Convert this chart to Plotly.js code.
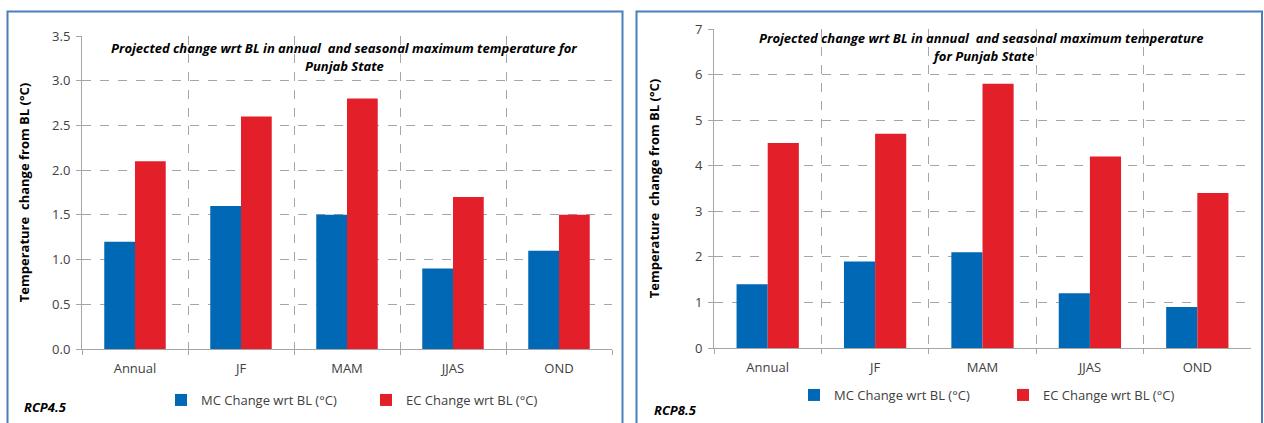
<!DOCTYPE html>
<html><head><meta charset="utf-8">
<script src="https://cdn.plot.ly/plotly-3.0.1.min.js"></script>
<style>html,body{margin:0;padding:0;background:#fff;}#chart{width:1264px;height:423px;}</style>
</head><body><div id="chart"></div>
<script>
const categories = ["Annual", "JF", "MAM", "JJAS", "OND"];
const rcp45_MC = [1.2, 1.6, 1.5, 0.9, 1.1];
const rcp45_EC = [2.1, 2.6, 2.8, 1.7, 1.5];
const rcp85_MC = [1.4, 1.9, 2.1, 1.2, 0.9];
const rcp85_EC = [4.5, 4.7, 5.8, 4.2, 3.4];
const seriesNames = ["MC Change wrt BL (°C)", "EC Change wrt BL (°C)"];
const titleLine1a = "Projected change wrt BL in annual  and seasonal maximum temperature for";
const titleLine2a = "Punjab State";
const titleLine1b = "Projected change wrt BL in annual  and seasonal maximum temperature";
const titleLine2b = "for Punjab State";
const yTitle = "Temperature  change from BL (°C)";

const W = 1264, H = 423;
const px = v => v / W, py = v => 1 - v / H;
const BLUE = "#0068b4", RED = "#e3202a", GRID = "#a6a6a6", TXT = "#404040";
const FONT = "Open Sans, sans-serif";

const traces = [
  {type: "bar", x: categories, y: rcp45_MC, name: seriesNames[0], marker: {color: BLUE}, xaxis: "x", yaxis: "y", legend: "legend"},
  {type: "bar", x: categories, y: rcp45_EC, name: seriesNames[1], marker: {color: RED}, xaxis: "x", yaxis: "y", legend: "legend"},
  {type: "bar", x: categories, y: rcp85_MC, name: seriesNames[0], marker: {color: BLUE}, xaxis: "x2", yaxis: "y2", legend: "legend2"},
  {type: "bar", x: categories, y: rcp85_EC, name: seriesNames[1], marker: {color: RED}, xaxis: "x2", yaxis: "y2", legend: "legend2"}
];

function xax(d) {
  return {domain: d, type: "category", tickson: "boundaries", showgrid: true, gridcolor: GRID, griddash: "dash",
    showline: true, linecolor: GRID, ticks: "outside", ticklen: 5, tickcolor: GRID, ticklabelstandoff: 7,
    tickfont: {family: FONT, size: 13, color: TXT}, fixedrange: true, mirror: false, zeroline: false};
}
function yax(d, r, dt, fmt, anchor, standoff) {
  return {domain: d, range: r, dtick: dt, tick0: 0, tickformat: fmt, showgrid: true, gridcolor: GRID, griddash: "dash",
    showline: true, linecolor: GRID, ticks: "outside", ticklen: 5, tickcolor: GRID, zeroline: false, ticklabelstandoff: 3,
    tickfont: {family: FONT, size: 13, color: TXT}, anchor: anchor,
    title: {text: yTitle, font: {family: FONT, size: 13, color: "#000", weight: "bold"}, standoff: standoff}};
}
function ann(text, x, y, xanchor) {
  return {text: "<b><i>" + text + "</i></b>", x: px(x), y: py(y), xref: "paper", yref: "paper", xanchor: xanchor, yanchor: "middle",
    showarrow: false, font: {family: FONT, size: 13, color: "#000"}};
}

const layout = {
  width: W, height: H, margin: {l: 0, r: 0, t: 0, b: 0, autoexpand: false},
  paper_bgcolor: "#fff", plot_bgcolor: "#fff",
  barmode: "group", bargap: 0.42, bargroupgap: 0,
  font: {family: FONT, color: TXT},
  xaxis: xax([px(82), px(612)]),
  yaxis: yax([py(349), py(36)], [0, 3.5], 0.5, ".1f", "x", 19),
  xaxis2: Object.assign(xax([px(714), px(1251)]), {anchor: "y2"}),
  yaxis2: yax([py(348), py(29)], [0, 7], 1, "d", "x2", 32),
  legend: {orientation: "h", x: px(161), xanchor: "left", y: py(400), yanchor: "middle",
    entrywidth: 160, entrywidthmode: "pixels", font: {family: FONT, size: 13, color: TXT}, bgcolor: "rgba(0,0,0,0)"},
  legend2: {orientation: "h", x: px(794), xanchor: "left", y: py(395), yanchor: "middle",
    entrywidth: 164, entrywidthmode: "pixels", font: {family: FONT, size: 13, color: TXT}, bgcolor: "rgba(0,0,0,0)"},
  annotations: [
    ann(titleLine1a, 344, 48, "center"),
    ann(titleLine2a, 344, 66, "center"),
    ann(titleLine1b, 981, 38, "center"),
    ann(titleLine2b, 983, 56, "center"),
    ann("RCP4.5", 22, 407, "left"),
    ann("RCP8.5", 652, 410, "left")
  ],
  shapes: [
    {type: "path", xref: "paper", yref: "paper", path: `M ${px(7.5)} 0 L ${px(7.5)} ${py(11.5)} L ${px(622.5)} ${py(11.5)} L ${px(622.5)} 0`, line: {color: "#4a7ebb", width: 2}},
    {type: "path", xref: "paper", yref: "paper", path: `M ${px(636.5)} 0 L ${px(636.5)} ${py(11.5)} L ${px(1262)} ${py(11.5)} L ${px(1262)} 0`, line: {color: "#4a7ebb", width: 2}}
  ]
};

Plotly.newPlot("chart", traces, layout, {displayModeBar: false, staticPlot: true});
</script></body></html>
